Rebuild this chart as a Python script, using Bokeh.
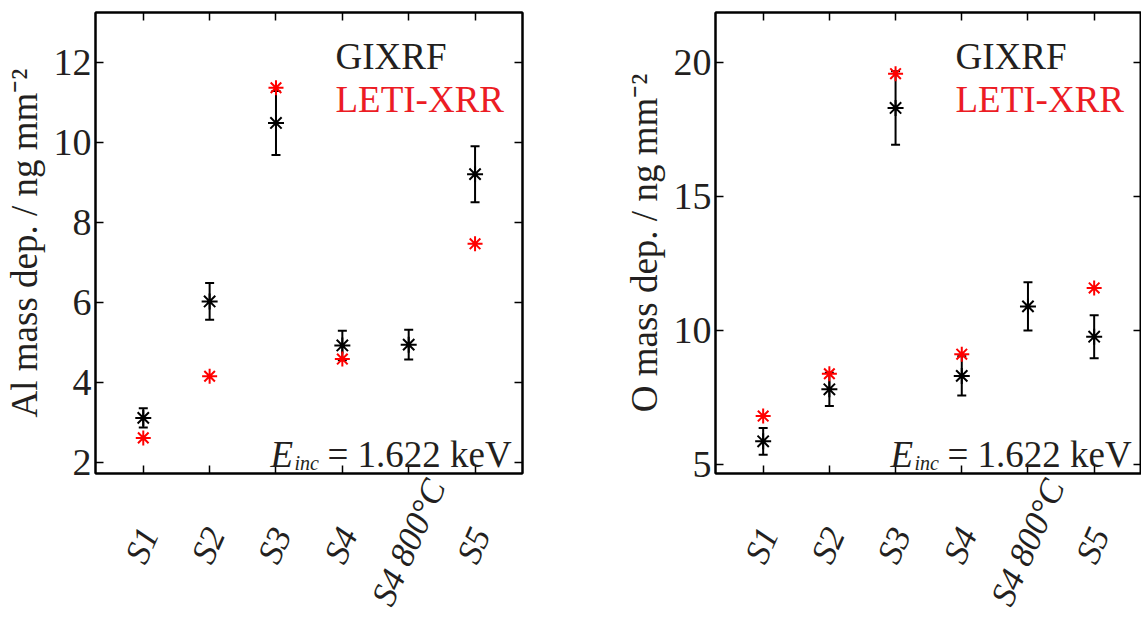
import math
from bokeh.plotting import figure
from bokeh.layouts import row
from bokeh.models import (ColumnDataSource, Range1d, FixedTicker,
                          LinearAxis, Whisker, TeeHead, Label)
from bokeh.embed import file_html
from bokeh.resources import INLINE

# ---- data -------------------------------------------------------------
samples = ["S1", "S2", "S3", "S4", "S4 800°C", "S5"]
leti_samples = ["S1", "S2", "S3", "S4", "S5"]

al_gixrf = [3.12, 6.03, 10.49, 4.93, 4.95, 9.21]
al_gixrf_err = [0.24, 0.46, 0.80, 0.37, 0.37, 0.70]
al_leti = [2.62, 4.16, 11.37, 4.59, 7.47]

o_gixrf = [5.87, 7.81, 18.30, 8.31, 10.90, 9.77]
o_gixrf_err = [0.50, 0.62, 1.37, 0.73, 0.90, 0.80]
o_leti = [6.81, 8.39, 19.58, 9.12, 11.59]

al_yticks = [2, 4, 6, 8, 10, 12]
o_yticks = [5, 10, 15, 20]

al_ylabel = "Al mass dep. / ng mm⁻²"
o_ylabel = "O mass dep. / ng mm⁻²"

FONT = "Liberation Serif"
TXT = "#231f20"
RED_TXT = "#ec1c24"
NBSP = "\u00a0"

# sample positions on the x axis (one slot per sample)
xpos = {s: i + 1 for i, s in enumerate(samples)}

X_START, X_END = 0.28, len(samples) + 0.715
LABEL_SHIFT = 0.41   # rotated names are centred under their tick
longest = max(len(s) for s in samples)


def centred_name(s):
    n = int(round((longest - len(s)) * 0.477 / 0.5))
    return s + NBSP * n


def make_panel(ylabel, vals, errs, leti, ystart, yend, yticks, width, border_right):
    xs = [xpos[s] for s in samples]
    p = figure(
        x_range=Range1d(X_START, X_END),
        y_range=Range1d(ystart, yend),
        width=width, height=622,
        output_backend="svg", toolbar_location=None,
        min_border_left=95, min_border_right=border_right,
        min_border_top=12, min_border_bottom=148,
    )
    p.extra_x_ranges = {"lab": Range1d(X_START - LABEL_SHIFT, X_END - LABEL_SHIFT)}
    p.xgrid.visible = False
    p.ygrid.visible = False
    p.outline_line_color = "black"
    p.outline_line_width = 2

    # left axis
    ya = p.yaxis[0]
    ya.ticker = FixedTicker(ticks=yticks)
    ya.major_tick_in = 8
    ya.major_tick_out = 0
    ya.minor_tick_in = 0
    ya.minor_tick_out = 0
    ya.major_tick_line_width = 1.5
    ya.axis_line_width = 2
    ya.major_label_text_font = FONT
    ya.major_label_text_font_size = "38px"
    ya.major_label_text_color = TXT
    ya.major_label_standoff = 4
    ya.axis_label = ylabel
    ya.axis_label_text_font = FONT
    ya.axis_label_text_font_size = "37px"
    ya.axis_label_text_font_style = "normal"
    ya.axis_label_text_color = TXT
    ya.axis_label_standoff = 6

    # bottom axis: ticks only
    xa = p.xaxis[0]
    xa.ticker = FixedTicker(ticks=xs)
    xa.major_tick_in = 8
    xa.major_tick_out = 0
    xa.minor_tick_in = 0
    xa.minor_tick_out = 0
    xa.major_tick_line_width = 1.5
    xa.axis_line_width = 2
    xa.major_label_text_font_size = "1px"
    xa.major_label_text_color = None
    xa.major_label_standoff = 0

    # rotated sample names
    la = LinearAxis(x_range_name="lab", ticker=FixedTicker(ticks=xs),
                    major_label_overrides={xpos[s]: centred_name(s) for s in samples},
                    major_label_orientation=math.radians(66),
                    major_label_text_font=FONT, major_label_text_font_style="italic",
                    major_label_text_font_size="35px", major_label_text_color=TXT,
                    major_label_standoff=8,
                    axis_line_color=None, major_tick_line_color=None,
                    minor_tick_line_color=None, major_tick_in=0, major_tick_out=0,
                    minor_tick_in=0, minor_tick_out=0)
    p.add_layout(la, "below")

    # mirrored axes (no labels)
    ra = LinearAxis(ticker=FixedTicker(ticks=yticks), major_tick_in=8, major_tick_out=0,
                    minor_tick_in=0, minor_tick_out=0, major_tick_line_width=1.5,
                    axis_line_width=2, major_label_text_font_size="1px",
                    major_label_text_color=None, major_label_standoff=0)
    p.add_layout(ra, "right")
    ta = LinearAxis(ticker=FixedTicker(ticks=xs), major_tick_in=8, major_tick_out=0,
                    minor_tick_in=0, minor_tick_out=0, major_tick_line_width=1.5,
                    axis_line_width=2, major_label_text_font_size="1px",
                    major_label_text_color=None, major_label_standoff=0)
    p.add_layout(ta, "above")

    src = ColumnDataSource(dict(
        x=xs, y=vals,
        lo=[v - e for v, e in zip(vals, errs)],
        up=[v + e for v, e in zip(vals, errs)],
    ))
    w = Whisker(base="x", lower="lo", upper="up", source=src, line_color="black", line_width=2,
                lower_head=TeeHead(size=9, line_color="black", line_width=2),
                upper_head=TeeHead(size=9, line_color="black", line_width=2))
    p.add_layout(w)
    p.scatter("x", "y", source=src, marker="asterisk", size=16,
              line_color="black", line_width=2)
    p.scatter(x=[xpos[s] for s in leti_samples], y=leti, marker="asterisk", size=15,
              line_color="red", line_width=2)

    p.add_layout(Label(x=240, y=417, x_units="screen", y_units="screen", text="GIXRF",
                       text_font=FONT, text_font_size="37px", text_color=TXT,
                       text_baseline="alphabetic"))
    p.add_layout(Label(x=240, y=374, x_units="screen", y_units="screen", text="LETI-XRR",
                       text_font=FONT, text_font_size="37px", text_color=RED_TXT,
                       text_baseline="alphabetic"))
    p.add_layout(Label(x=175, y=19, x_units="screen", y_units="screen", text="E",
                       text_font=FONT, text_font_style="italic", text_font_size="37px",
                       text_color=TXT, text_baseline="alphabetic"))
    p.add_layout(Label(x=199, y=11, x_units="screen", y_units="screen", text="inc",
                       text_font=FONT, text_font_style="italic", text_font_size="20px",
                       text_color=TXT, text_baseline="alphabetic"))
    p.add_layout(Label(x=232, y=19, x_units="screen", y_units="screen", text="= 1.622 keV",
                       text_font=FONT, text_font_size="37px",
                       text_color=TXT, text_baseline="alphabetic"))
    return p


p1 = make_panel(al_ylabel, al_gixrf, al_gixrf_err, al_leti, 1.73, 13.25, al_yticks, 620, 98)
p2 = make_panel(o_ylabel, o_gixrf, o_gixrf_err, o_leti, 4.67, 21.86, o_yticks, 521, 0)

layout = row(p1, p2)
open("out.html", "w").write(file_html(layout, INLINE))
